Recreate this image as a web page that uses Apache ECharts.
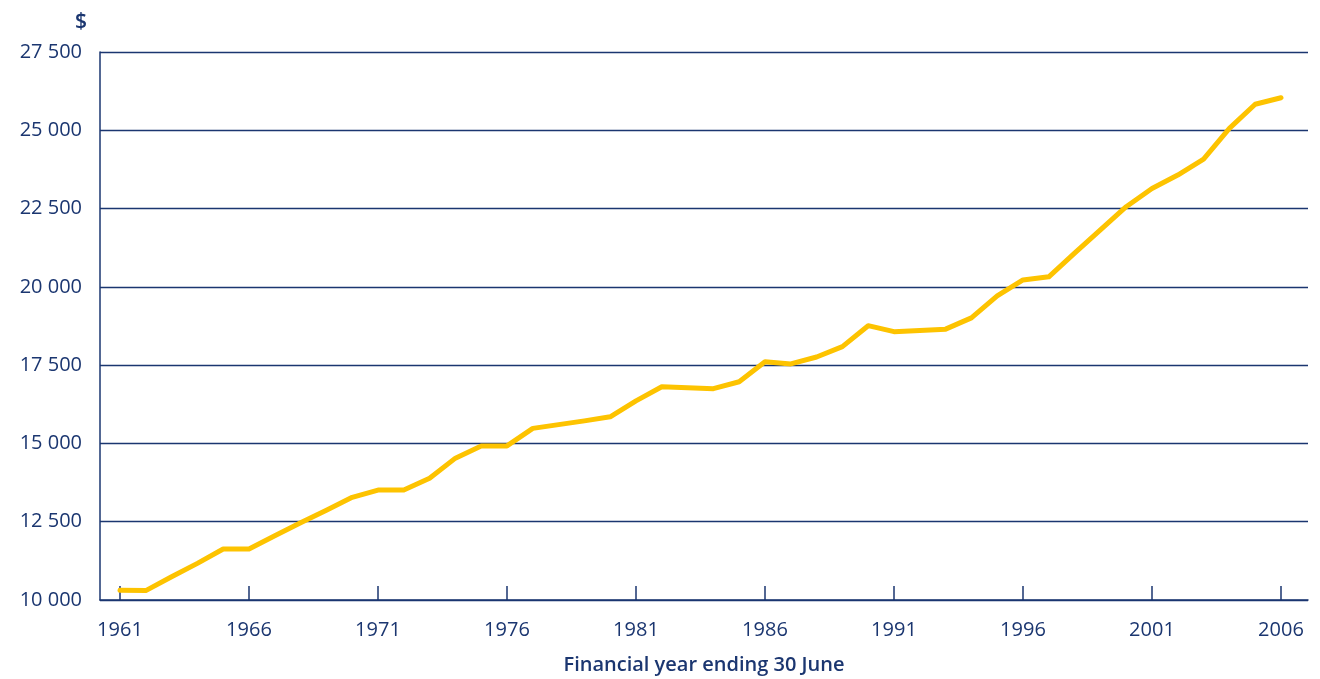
<!DOCTYPE html>
<html>
<head>
<meta charset="utf-8">
<script src="https://cdn.jsdelivr.net/npm/echarts@6/dist/echarts.min.js"></script>
<style>
  html, body { margin: 0; padding: 0; background: #fff; }
  #chart { width: 1320px; height: 679px; }
</style>
</head>
<body>
<div id="chart"></div>
<script>
// financial years ending 30 June
const years = [
  1961, 1962, 1963, 1964, 1965, 1966, 1967, 1968, 1969, 1970,
  1971, 1972, 1973, 1974, 1975, 1976, 1977, 1978, 1979, 1980,
  1981, 1982, 1983, 1984, 1985, 1986, 1987, 1988, 1989, 1990,
  1991, 1992, 1993, 1994, 1995, 1996, 1997, 1998, 1999, 2000,
  2001, 2002, 2003, 2004, 2005, 2006
];
const values = [
  10310, 10300, 10740, 11170, 11630, 11630, 12050, 12470, 12870, 13280,
  13510, 13510, 13890, 14530, 14920, 14920, 15480, 15600, 15720, 15850,
  16360, 16810, 16780, 16750, 16970, 17610, 17540, 17760, 18090, 18760,
  18570, 18610, 18650, 19010, 19710, 20220, 20320, 21080, 21820, 22560,
  23140, 23570, 24080, 25060, 25830, 26040
];
const yearTicks = [1961, 1966, 1971, 1976, 1981, 1986, 1991, 1996, 2001, 2006];
const yMin = 10000;
const yMax = 27500;
const yStep = 2500;

const navy = '#1b3670';
const font = '"Open Sans", "Noto Sans", sans-serif';

const chart = echarts.init(document.getElementById('chart'));
chart.setOption({
  animation: false,
  title: {
    text: '$',
    left: 70,
    top: 7,
    textStyle: { color: navy, fontFamily: font, fontSize: 21, fontWeight: 600 }
  },
  grid: {
    left: 100,
    right: 12,
    top: 52,
    bottom: 79,
    containLabel: false,
    outerBoundsMode: 'none'
  },
  xAxis: {
    type: 'value',
    min: 1960.225,
    max: 2007.047,
    name: 'Financial year ending 30 June',
    nameLocation: 'middle',
    nameGap: 55,
    nameTextStyle: { color: navy, fontFamily: font, fontSize: 20, fontWeight: 600 },
    axisLine: { show: true, lineStyle: { color: navy, width: 1.5 } },
    axisTick: {
      show: true,
      inside: true,
      length: 14,
      customValues: yearTicks,
      lineStyle: { color: navy, width: 1.5 }
    },
    axisLabel: {
      customValues: yearTicks,
      formatter: v => String(v),
      margin: 20,
      color: navy,
      fontFamily: font,
      fontSize: 20
    },
    splitLine: { show: false }
  },
  yAxis: {
    type: 'value',
    min: yMin,
    max: yMax,
    interval: yStep,
    axisLine: { show: true, lineStyle: { color: navy, width: 1.5 } },
    axisTick: { show: false },
    axisLabel: {
      formatter: v => String(v).replace(/\B(?=(\d{3})+(?!\d))/g, ' '),
      margin: 18,
      color: navy,
      fontFamily: font,
      fontSize: 20
    },
    splitLine: { show: true, lineStyle: { color: navy, width: 1.3 } }
  },
  series: [
    {
      type: 'line',
      data: years.map((y, i) => [y, values[i]]),
      showSymbol: false,
      lineStyle: { color: '#fdc300', width: 5, cap: 'round', join: 'round' },
      itemStyle: { color: '#fdc300' },
      z: 3
    }
  ]
});
</script>
</body>
</html>
